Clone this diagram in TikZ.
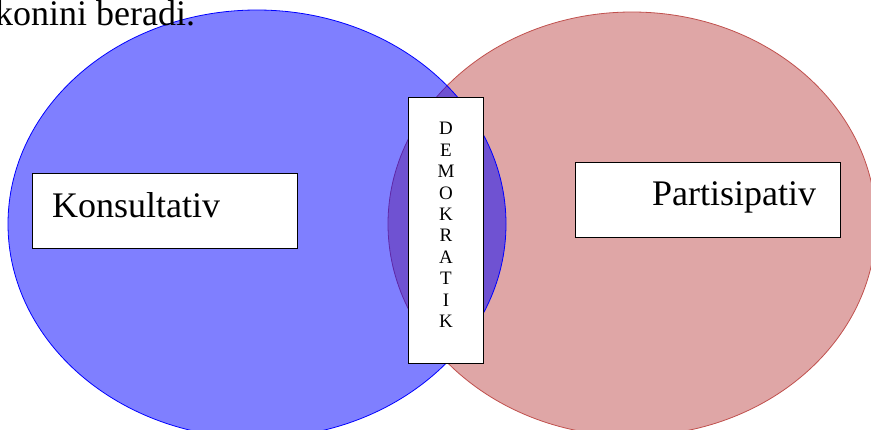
\documentclass[tikz,border=0pt]{standalone}
\usepackage{fontspec}
\setmainfont{Liberation Serif}
\definecolor{redfill}{RGB}{223,166,166}
\definecolor{redline}{RGB}{192,80,77}
\begin{document}
\begin{tikzpicture}[x=1pt,y=-1pt,
  labelbox/.style={draw=black,line width=1pt,fill=white,inner sep=0pt,anchor=north west},
  bigtext/.style={font=\fontsize{36}{42}\selectfont,inner sep=0pt,anchor=base west},
  lettertext/.style={font=\fontsize{19}{21.4}\selectfont,inner sep=0pt,align=center}]
\useasboundingbox (0,0) rectangle (871,429);
\clip (0,0) rectangle (871,429);
% the two overlapping circles of the diagram
\draw[redline,fill=redfill,line width=0.8pt] (632,224) ellipse [x radius=244, y radius=212];
\draw[blue,fill=blue,fill opacity=0.5,line width=0.8pt] (257,224) ellipse [x radius=249, y radius=214];
% heading line running in from the left
\node[bigtext] (head) at (-5,25) {konini beradi.};
% left label
\node[labelbox,minimum width=265pt,minimum height=75pt] (kbox) at (32,173) {};
\node[bigtext] (ktext) at (52,217) {Konsultativ};
% right label
\node[labelbox,minimum width=265pt,minimum height=75pt] (pbox) at (575,162) {};
\node[bigtext] (ptext) at (652,205) {Partisipativ};
% middle label, one letter per line
\node[labelbox,minimum width=75pt,minimum height=266pt] (dbox) at (408,97) {};
\node[lettertext] (dtext) at (446,225) {D\\E\\M\\O\\K\\R\\A\\T\\I\\K};
\end{tikzpicture}
\end{document}
